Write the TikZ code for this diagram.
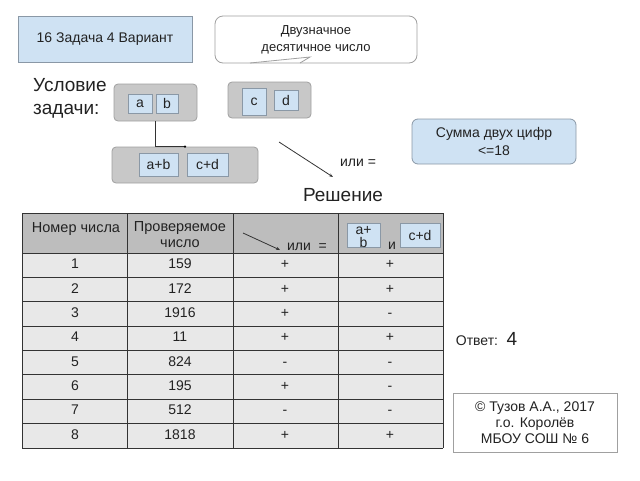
\documentclass[tikz,border=0pt]{standalone}
\usepackage{fontspec}
\setmainfont{Liberation Sans}
\usetikzlibrary{arrows.meta}
\definecolor{lblue}{HTML}{CFE2F3}
\definecolor{bborder}{HTML}{8A98A6}
\definecolor{gfill}{HTML}{C8C8C8}
\definecolor{gborder}{HTML}{A0A0A0}
\definecolor{hfill}{HTML}{BDBDBD}
\definecolor{rfill}{HTML}{E8E8E8}
\definecolor{tline}{HTML}{333333}
\definecolor{txt}{HTML}{222222}
\begin{document}
\begin{tikzpicture}[x=1pt,y=-1pt,
  font=\fontsize{14}{16}\selectfont, text=txt,
  bluebox/.style={draw=bborder, fill=lblue, inner sep=0pt, line width=0.8pt},
  graybox/.style={draw=gborder, fill=gfill, inner sep=0pt, rounded corners=4pt, line width=0.8pt},
  bigtext/.style={font=\fontsize{19}{23}\selectfont, inner sep=0pt},
  plain/.style={inner sep=0pt},
  cell/.style={inner sep=0pt, text height=10pt, text depth=3pt},
  conn/.style={draw=black!80, line width=0.8pt},
  tick/.style={-{Stealth[length=4pt,width=3pt]}}
]
\useasboundingbox (0,0) rectangle (640,480);

% title
\node[bluebox, minimum width=174pt, minimum height=46pt] (title) at (105,39) {16 Задача 4 Вариант};

% callout
\node[draw=gborder, fill=white, rounded corners=8pt, line width=0.8pt, minimum width=202pt, minimum height=47pt, align=center, font=\fontsize{13}{17}\selectfont] (call) at (316,39.5) {Двузначное\\десятичное число};
\coordinate (tA) at (250,63);
\coordinate (tB) at (310,57);
\coordinate (tC) at (300,63);
\draw[gborder, line width=0.8pt] (tA) -- (tB) -- (tC);

% condition
\node[bigtext, anchor=west, align=left] (usl) at (33,98.5) {Условие\\задачи:};

\node[graybox, minimum width=83pt, minimum height=37pt] (g1) at (155.5,102.5) {};
\node[bluebox, minimum width=24pt, minimum height=19pt] (a) at (140,103.5) {a};
\node[bluebox, minimum width=22pt, minimum height=19pt] (b) at (167,103.5) {b};

\node[graybox, minimum width=83pt, minimum height=36pt] (g2) at (269.5,100) {};
\node[bluebox, minimum width=24pt, minimum height=27pt] (c) at (254,101.5) {c};
\node[bluebox, minimum width=24pt, minimum height=20pt] (d) at (286,100) {d};

\node[graybox, minimum width=146pt, minimum height=36pt] (g3) at (185,165) {};
\node[bluebox, minimum width=39pt, minimum height=23pt] (ab) at (158.5,164.5) {a+b};
\node[bluebox, minimum width=41pt, minimum height=23pt] (cd) at (207.5,164.5) {c+d};

\draw[conn] (g1.south) |- (g3.north);
\fill[black] (g3.north) circle (1.3pt);

\coordinate (arS) at (279,142);
\coordinate (arE) at (333,177);
\draw[conn, tick] (arS) -- (arE);
\node[plain] (ili) at (358,163) {или =};
\node[bigtext] (resh) at (343,195) {Решение};

% sum box
\node[bluebox, rounded corners=6pt, minimum width=164pt, minimum height=45pt, align=center, font=\fontsize{14}{18}\selectfont] (sum) at (494,141.5) {Сумма двух цифр\\<=18};

% table
\fill[hfill] (22,213) rectangle (443,253);
\fill[rfill] (22,253) rectangle (443,448);
\foreach \i in {0,...,8} {
  \draw[tline, line width=1pt] (22,{253+24.375*\i}) -- (443,{253+24.375*\i});
}
\draw[tline, line width=1pt] (22,213) -- (443,213);
\foreach \xx in {22,127,233,338,443} {
  \draw[tline, line width=1pt] (\xx,213) -- (\xx,448);
}

\node[plain, font=\fontsize{14.5}{16}\selectfont] (h1) at (76,229) {Номер числа};
\node[plain, align=center, font=\fontsize{14.5}{16}\selectfont] (h2) at (180,235) {Проверяемое\\число};
\coordinate (hS) at (243,233);
\coordinate (hE) at (280,250);
\draw[conn, tick] (hS) -- (hE);
\node[plain] (h3) at (307,247) {или \ =};
\node[bluebox, minimum width=33pt, minimum height=24pt] (hab) at (363.5,235) {};
\node[plain, align=center, font=\fontsize{14}{13}\selectfont] (habt) at (363.5,237) {a+\\b};
\node[plain] (hi) at (392,246) {и};
\node[bluebox, minimum width=40pt, minimum height=24pt] (hcd) at (420,235) {c+d};

\foreach \cA/\cB/\cC/\cD [count=\i] in {1/159/+/+, 2/172/+/+, 3/1916/+/-, 4/11/+/+, 5/824/-/-, 6/195/+/-, 7/512/-/-, 8/1818/+/+} {
  \node[cell] (r\i c1) at (75,{253+24.375*(\i-0.5)}) {\cA};
  \node[cell] (r\i c2) at (180,{253+24.375*(\i-0.5)}) {\cB};
  \node[cell] (r\i c3) at (285,{253+24.375*(\i-0.5)}) {\cC};
  \node[cell] (r\i c4) at (390,{253+24.375*(\i-0.5)}) {\cD};
}

% answer
\node[plain] (otv) at (477,341) {Ответ:};
\node[bigtext] (four) at (512,339) {4};

% copyright
\node[draw=gborder, fill=white, line width=0.8pt, minimum width=164pt, minimum height=59pt, align=center, font=\fontsize{14}{16}\selectfont] (copy) at (535,422.5) {© Тузов А.А., 2017\\г.о. Королёв\\МБОУ СОШ № 6};
\end{tikzpicture}
\end{document}
